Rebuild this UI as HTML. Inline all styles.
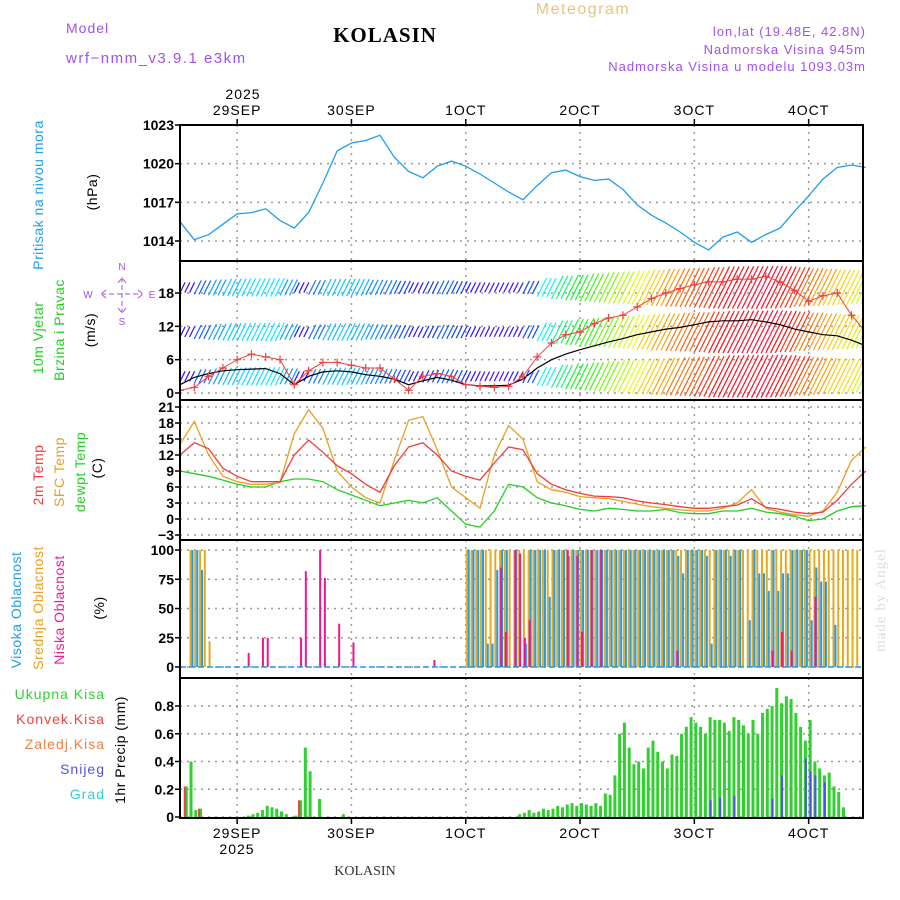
<!DOCTYPE html>
<html><head><meta charset="utf-8">
<style>
body{margin:0;background:#fff;}
svg{display:block;font-family:"Liberation Sans",sans-serif;}
.t{font-size:14px;letter-spacing:1px}
.tick{font-size:14px;font-weight:bold;fill:#000;text-anchor:end}
</style></head><body>
<svg id="c" width="900" height="900" viewBox="0 0 900 900">
<defs><clipPath id="wclip"><rect x="180" y="261" width="683" height="139"/></clipPath></defs>
<rect width="900" height="900" fill="#fff"/>
<text x="66" y="33" fill="#a050f0" class="t">Model</text>
<text x="66" y="63" fill="#a050f0" class="t" style="font-size:15px;letter-spacing:1.5px">wrf−nmm_v3.9.1 e3km</text>
<text x="385" y="42" text-anchor="middle" style="font-family:'Liberation Serif',serif;font-weight:bold;font-size:21px;letter-spacing:1px">KOLASIN</text>
<text x="583" y="14" text-anchor="middle" fill="#f0c080" style="font-size:16px;letter-spacing:1.5px">Meteogram</text>
<text x="866" y="36" text-anchor="end" fill="#a050f0" style="font-size:13px;letter-spacing:1px">lon,lat (19.48E, 42.8N)</text>
<text x="866" y="54" text-anchor="end" fill="#a050f0" style="font-size:13px;letter-spacing:1px">Nadmorska Visina 945m</text>
<text x="866" y="71" text-anchor="end" fill="#a050f0" style="font-size:13px;letter-spacing:1px">Nadmorska Visina u modelu 1093.03m</text>
<text x="365" y="875" text-anchor="middle" fill="#333" style="font-family:'Liberation Serif',serif;font-size:14px">KOLASIN</text>
<text transform="translate(885,600) rotate(-90)" text-anchor="middle" fill="#ddd" style="font-family:'Liberation Serif',serif;font-size:15px;letter-spacing:1px">made by Angel</text>
<g id="g"></g>
</svg>
<script>
const days=['29SEP','30SEP','1OCT','2OCT','3OCT','4OCT'];
const pres=[1015.5,1014.1,1014.5,1015.3,1016.1,1016.2,1016.5,1015.6,1015.0,1016.2,1018.5,1021.0,1021.6,1021.8,1022.2,1020.5,1019.4,1018.9,1019.8,1020.2,1019.8,1019.2,1018.5,1017.8,1017.2,1018.3,1019.3,1019.5,1019.0,1018.7,1018.8,1018.0,1016.8,1016.0,1015.4,1014.7,1013.9,1013.3,1014.3,1014.7,1013.9,1014.5,1015.0,1016.3,1017.5,1018.8,1019.7,1019.9,1019.7];
const t2m=[12,14.3,13.2,9.5,8,7,7,7,12,14.8,12.5,10,8.5,6.5,5,10,13.5,14.3,12,9,8,7.3,10.5,13.5,13,8.5,6.5,5.5,4.8,4.3,4.2,4,3.4,3,2.7,2.3,2,2,2.3,2.6,3.8,2.2,1.8,1.3,1,1.3,3.5,6.5,9];
const tsfc=[14,18.3,12,8,7,6.5,6.5,6.8,16,20.5,17,9,6,4,3,11,18.5,19.2,13,6,4,2,12,17.5,15,7,5.5,5,4.2,4,3.8,3.3,2.8,2.3,2,1.7,1.5,1.5,2,3,5.5,2,1.3,0.8,0.5,1.5,5,11,13.5];
const tdew=[9,8.5,8,7.3,6.5,6,6,7,7.5,7.5,7,5.5,4.5,3.5,2.5,3,3.5,3,4,1.5,-1,-1.5,1.5,6.5,6,4,3,2.5,1.8,1.5,2,1.8,1.5,1.5,1.8,1.2,1,1,1.5,1.5,2,1.3,1,0.5,-0.3,0,1.5,2.3,2.5];
const wspd=[1.5,2.8,3.5,4,4.2,4.3,4.4,3.5,1.5,3,3.8,4,3.8,3.3,3,2.5,1.5,2.2,2.8,2.3,1.5,1.3,1.3,1.4,2.5,4.5,6,7,7.8,8.5,9.2,9.8,10.5,11,11.5,11.8,12.3,12.8,13,13,13.2,12.8,12.3,11.5,11,10.5,10.3,9.5,8.5];
const gust=[0.5,1,3,4.5,6,7,6.5,6,1.5,4,5.5,5.5,5,4.5,4.5,2.5,0.5,3,3.5,3,1.5,1.2,1,1.2,3,6.5,9,10.5,11,12.5,13.5,14,15.5,17,18,18.8,19.5,20,20,20.5,20.5,21,20,18.5,16.5,17.5,18,14,11];
const cloudHigh=[0,0,100,100,83,0,0,0,0,0,0,0,0,0,0,0,0,0,0,0,0,0,0,0,0,0,0,0,0,0,0,0,0,0,0,0,0,0,0,0,0,0,0,0,0,0,0,0,0,0,0,0,0,0,0,0,0,0,0,0,100,100,100,100,20,20,83,100,100,0,100,0,20,100,100,100,100,60,100,100,100,95,100,100,100,100,100,100,100,100,100,100,100,100,100,100,100,100,100,100,100,100,100,100,95,80,100,100,100,100,95,20,100,100,100,95,100,100,0,40,100,80,80,65,100,65,80,80,100,100,100,100,40,85,73,73,0,36,0,0,0,0,0,0];
const cloudMid=[0,0,100,100,100,100,22,0,0,0,0,0,0,0,0,0,0,0,0,0,0,0,0,0,0,0,0,0,0,0,0,0,0,0,0,0,0,0,0,0,0,0,0,0,0,0,0,0,0,0,0,0,0,0,0,0,0,0,0,0,100,100,100,100,100,100,100,100,100,100,100,100,100,100,100,100,100,100,100,100,100,100,100,100,100,100,100,100,100,100,100,100,100,100,100,100,100,100,100,100,100,100,100,100,100,100,100,100,100,100,100,100,100,100,100,100,100,100,100,100,100,100,100,100,100,100,100,100,100,100,100,100,100,100,100,100,100,100,100,100,100,100,100,0];
const cloudLow=[0,0,0,0,0,0,0,0,0,0,0,0,0,0,12,0,0,25,25,0,0,0,0,0,0,25,82,0,0,100,76,0,0,37,0,0,21,0,0,0,0,0,0,0,0,0,0,0,0,0,0,0,0,6,0,0,0,0,0,0,0,0,0,0,0,0,0,85,30,0,100,97,25,40,0,0,0,0,0,0,0,100,0,95,30,0,100,0,100,0,0,0,0,0,0,0,0,0,0,0,0,0,0,0,14,0,0,0,0,0,0,0,0,0,0,0,0,0,0,0,0,0,0,0,14,0,30,0,14,0,0,0,0,60,0,0,0,0,0,0,0,0,0,0,0,0];
const precip=[0,0.22,0.4,0.05,0.06,0,0,0,0,0,0,0,0,0,0.01,0.02,0.03,0.05,0.08,0.07,0.06,0.04,0.02,0,0.01,0.12,0.5,0.33,0,0.13,0,0,0,0,0.02,0,0,0,0,0,0,0,0,0,0,0,0,0,0,0,0,0,0,0,0,0,0,0,0,0,0,0,0,0,0,0,0,0,0,0,0,0.02,0.03,0.05,0.03,0.04,0.06,0.05,0.06,0.08,0.07,0.09,0.1,0.08,0.1,0.09,0.08,0.1,0.08,0.17,0.16,0.3,0.6,0.68,0.5,0.38,0.4,0.35,0.5,0.55,0.47,0.4,0.35,0.45,0.44,0.6,0.65,0.72,0.68,0.65,0.6,0.72,0.7,0.7,0.68,0.62,0.72,0.7,0.66,0.6,0.7,0.6,0.75,0.78,0.8,0.93,0.82,0.87,0.85,0.75,0.65,0.55,0.7,0.4,0.35,0.3,0.32,0.22,0.18,0.07,0,0,0,0];
const convHours=[1,4,25];
const convVals=[0.22,0.06,0.12];
const snowHours=[111,113,116,124,126,131,132,133,135];
const snowVals=[0.12,0.14,0.15,0.13,0.3,0.42,0.33,0.3,0.25];

const NS='http://www.w3.org/2000/svg';
const G=document.getElementById('g');
const X0=180,X1=863,PXH=114.3/24;
const xh=h=>X0+h*PXH;
function el(tag,at,parent){const e=document.createElementNS(NS,tag);for(const k in at)e.setAttribute(k,at[k]);(parent||G).appendChild(e);return e;}
function lin(v0,v1,y0,y1){return v=>y0+(v-v0)*(y1-y0)/(v1-v0);}
const yP=lin(1023,1014,125,241), yW=lin(0,18,393,293), yT=lin(21,0,407,519), yC=lin(100,0,550,667), yR=lin(0.8,0,706,817);
const panels=[[125,261],[261,400],[400,540],[540,678],[678,818]];
function grid(ticks,yf,top,bot,labels,name){
  days.forEach((d,i)=>{const x=xh(12+24*i);const l=el('line',{x1:x,x2:x,y1:top,y2:bot,stroke:'#999','stroke-dasharray':'2,5','stroke-width':1.5});
  
  });
  ticks.forEach((v,i)=>{const y=yf(v);const l=el('line',{x1:X0,x2:X1,y1:y,y2:y,stroke:'#999','stroke-dasharray':'2,5','stroke-width':1.5});
  
  
  el('line',{x1:X0-5,x2:X0,y1:y,y2:y,stroke:'#000','stroke-width':1.5});
  const t=el('text',{x:X0-6,y:y+5,class:'tick'});t.textContent=labels[i];
  
  });
}
grid([1023,1020,1017,1014],yP,125,261,['1023','1020','1017','1014'],'pressure');
grid([18,12,6,0],yW,261,400,['18','12','6','0'],'wind');
grid([21,18,15,12,9,6,3,0,-3],yT,400,540,['21','18','15','12','9','6','3','0','−3'],'temp');
grid([100,75,50,25,0],yC,540,678,['100','75','50','25','0'],'cloud');
grid([0.8,0.6,0.4,0.2,0],yR,678,818,['0.8','0.6','0.4','0.2','0'],'precip');
function poly(arr,yf,color,name,w,parent){const pts=arr.map((v,i)=>xh(i*3).toFixed(1)+','+yf(v).toFixed(1)).join(' ');
  const p=el('polyline',{points:pts,fill:'none',stroke:color,'stroke-width':w||1.3},parent);
  
  }
poly(pres,yP,'#1e9ef0','pressure-line');
const WG=el('g',{'clip-path':'url(#wclip)'});


function wcol(s){let h=280-s*22;if(h<0)h=Math.max(330,360+h);return 'hsl('+h+',95%,52%)';}
[19,11,3].forEach(lv=>{wspd.forEach((s,i)=>{const x=xh(i*3),yl=yW(lv),L=s*2.8+6;
  for(let k=0;k<3;k++){const xx=x+k*PXH;
  const l=el('line',{x1:xx,y1:yl+0.5*L,x2:xx+0.5*L,y2:yl-0.5*L,stroke:wcol(s),'stroke-width':1.2},WG);
  
  }
  });});
poly(wspd,yW,'#000','wind-speed-line',1.2,WG);
poly(gust,yW,'#f04040','wind-gust-line',1,WG);
gust.forEach((v,i)=>{const x=xh(i*3),y=yW(v);const p=el('path',{d:`M${x-4},${y}h8M${x},${y-4}v8`,stroke:'#f04040','stroke-width':1.2},WG);
  
  });
poly(tdew,yT,'#20d020','dewpoint-line');
poly(tsfc,yT,'#e8a020','sfc-temp-line');
poly(t2m,yT,'#f03c3c','temp-2m-line');
function bars(arr,col,off,name){arr.forEach((v,i)=>{if(v<=0)return;const x=xh(i)+off;
  const r=el('rect',{x:x,y:yC(v),width:2,height:yC(0)-yC(v),fill:col});
  
  });}
bars(cloudMid,'#e8a820',0,'mid-cloud-bar');
bars(cloudHigh,'#1e9ef0',2,'high-cloud-bar');
bars(cloudLow,'#f01890',1,'low-cloud-bar');
el('line',{x1:X0,x2:X1,y1:667,y2:667,stroke:'#1e9ef0','stroke-width':1.5,'stroke-dasharray':'6,3'});
precip.forEach((v,i)=>{if(v<=0)return;const x=xh(i);
  const r=el('rect',{x:x,y:yR(v),width:3,height:yR(0)-yR(v),fill:'#30d030'});
  
  });
convHours.forEach((h,i)=>{const v=convVals[i],x=xh(h)-1;
  const r=el('rect',{x:x,y:yR(v),width:2,height:yR(0)-yR(v),fill:'#f04040'});
  
  });
snowHours.forEach((h,i)=>{const v=snowVals[i],x=xh(h)+1;
  const r=el('rect',{x:x,y:yR(v),width:2,height:yR(0)-yR(v),fill:'#5050f0'});
  
  });
panels.forEach(p=>{el('rect',{x:X0,y:p[0],width:X1-X0,height:p[1]-p[0],fill:'none',stroke:'#000','stroke-width':2});});
days.forEach((d,i)=>{const x=xh(12+24*i);
  let t=el('text',{x:x,y:115,'text-anchor':'middle',class:'t'});t.textContent=d;
  
  
  t=el('text',{x:x,y:838,'text-anchor':'middle',class:'t'});t.textContent=d;
  
  
  el('line',{x1:x,x2:x,y1:818,y2:824,stroke:'#000','stroke-width':1.5});
  el('line',{x1:x,x2:x,y1:119,y2:125,stroke:'#000','stroke-width':1.5});});
let yr=el('text',{x:243,y:99,'text-anchor':'middle',class:'t'});yr.textContent='2025';
yr=el('text',{x:237,y:854,'text-anchor':'middle',class:'t'});yr.textContent='2025';
function vt(x,y,txt,col,name,fs){const t=el('text',{transform:`translate(${x},${y}) rotate(-90)`,'text-anchor':'middle',fill:col,style:`font-size:${fs||14}px;letter-spacing:0.5px`});t.textContent=txt;
  
  }
vt(43,195,'Pritisak na nivou mora','#1e9ef0','pressure-title');
vt(97,192,'(hPa)','#000','pressure-unit');
vt(43,338,'10m Vjetar','#20d020','wind-title');
vt(64,330,'Brzina i Pravac','#20d020','wind-subtitle');
vt(95,330,'(m/s)','#000','wind-unit');
vt(43,475,'2m Temp','#f03c3c','temp2m-title');
vt(64,472,'SFC Temp','#e8a020','sfc-title');
vt(85,472,'dewpt Temp','#20d020','dew-title');
vt(102,468,'(C)','#000','temp-unit');
vt(21,610,'Visoka Oblacnost','#1e9ef0','high-cloud-title');
vt(43,608,'Srednja Oblacnost','#e8a020','mid-cloud-title');
vt(64,610,'Niska Oblacnost','#f01890','low-cloud-title');
vt(104,608,'(%)','#000','cloud-unit');
vt(125,750,'1hr Precip (mm)','#000','precip-title');
[['Ukupna Kisa','#30d030',699],['Konvek.Kisa','#f04040',724],['Zaledj.Kisa','#f08040',749],['Snijeg','#5050f0',774],['Grad','#30d0d0',799]].forEach(a=>{
  const t=el('text',{x:105,y:a[2],'text-anchor':'end',fill:a[1],class:'t'});t.textContent=a[0];
  
  });
const cg=el('g',{fill:'#a050f0',style:'font-size:10px'});


[['N',122,270],['W',88,298],['E',152,298],['S',122,325]].forEach(a=>{const t=el('text',{x:a[1],y:a[2],'text-anchor':'middle'},cg);t.textContent=a[0];});
el('path',{d:'M101,294h42M122,277v36M118,283l4,-5l4,5M118,308l4,5l4,-5M106,290l-5,4l5,4M138,290l5,4l-5,4',stroke:'#a050f0',fill:'none','stroke-width':1,'stroke-dasharray':'5,3'},cg);
</script>
</body></html>
